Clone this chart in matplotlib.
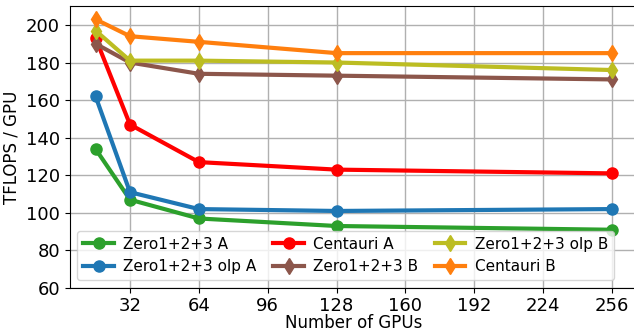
import matplotlib
matplotlib.use("Agg")
import matplotlib.pyplot as plt

# number of GPUs
gpus = [16, 32, 64, 128, 256]

zero_a = [134, 107, 97, 93, 91]
zero_olp_a = [162, 111, 102, 101, 102]
centauri_a = [193, 147, 127, 123, 121]
zero_b = [190, 180, 174, 173, 171]
zero_olp_b = [197, 181, 181, 180, 176]
centauri_b = [203, 194, 191, 185, 185]

xticks = [32, 64, 96, 128, 160, 192, 224, 256]
yticks = [60, 80, 100, 120, 140, 160, 180, 200]

fig = plt.figure(figsize=(6.34, 3.32), dpi=100)
ax = fig.add_axes([0.110, 0.1325, 0.896, 0.849])

ax.plot(gpus, zero_a, marker='o', color='tab:green', lw=3, ms=8, label='Zero1+2+3 A')
ax.plot(gpus, zero_olp_a, marker='o', color='tab:blue', lw=3, ms=8, label='Zero1+2+3 olp A')
ax.plot(gpus, centauri_a, marker='o', color='red', lw=3, ms=8, label='Centauri A')
ax.plot(gpus, zero_b, marker='d', color='tab:brown', lw=3, ms=8, label='Zero1+2+3 B')
ax.plot(gpus, zero_olp_b, marker='d', color='tab:olive', lw=3, ms=8, label='Zero1+2+3 olp B')
ax.plot(gpus, centauri_b, marker='d', color='tab:orange', lw=3, ms=8, label='Centauri B')

ax.set_xlim(4, 268)
ax.set_ylim(60, 210)
ax.set_xticks(xticks)
ax.set_yticks(yticks)
ax.tick_params(labelsize=13)
ax.tick_params(axis='x', pad=3)
ax.set_xlabel('Number of GPUs', fontsize=12, labelpad=-1)
ax.set_ylabel('TFLOPS / GPU', fontsize=12)
ax.grid(True, color='#b0b0b0', lw=1)
ax.legend(ncol=3, fontsize=11, loc='lower left', bbox_to_anchor=(0.0, 0.0),
          handlelength=2, columnspacing=1.1, handletextpad=0.6)

plt.savefig('out.png', dpi=100)
